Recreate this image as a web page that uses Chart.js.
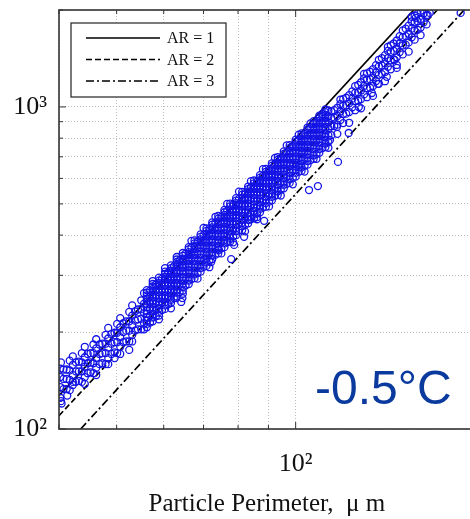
<!DOCTYPE html>
<html>
<head>
<meta charset="utf-8">
<script src="https://cdn.jsdelivr.net/npm/chart.js@4/dist/chart.umd.min.js"></script>
<style>
  html, body { margin: 0; padding: 0; background: #fff; overflow: hidden; }
  #wrap { position: relative; width: 480px; height: 519px; }
  #temp {
    position: absolute; left: 315px; top: 364px;
    font: 48px "Liberation Sans", Arial, sans-serif; line-height: 48px;
    color: #0b3a9e; white-space: nowrap;
  }
</style>
</head>
<body>
<div id="wrap">
  <canvas id="chart" width="480" height="519"></canvas>
  <div id="temp">-0.5°C</div>
</div>
<script>
'use strict';

// ── Data (perimeter in µm, area in µm²) ─────────────────────────────────────
const perimeterCols = [
  40.2, 40.7, 41.7, 42.7, 43.7, 44.7, 45.7, 46.8, 47.9, 49.0,
  50.1, 51.3, 52.5, 53.7, 55.0, 56.2, 57.5, 58.9, 60.3, 61.7,
  63.1, 64.6, 66.1, 67.6, 69.2, 70.8, 72.4, 74.1, 75.9, 77.6,
  79.4, 81.3, 83.2, 85.1, 87.1, 89.1, 91.2, 93.3, 95.5, 97.7,
  100, 102.3, 104.7, 107.2, 109.6, 112.2, 114.8, 117.5, 120.2, 123.0,
  125.9, 128.8, 131.8, 134.9, 138.0, 141.3, 144.5, 147.9, 151.4, 154.9,
  158.5, 162.2, 166.0,
];

// areas measured for each perimeter column above
const areaCols = [
  [125, 135, 145, 154],
  [133, 143, 153],
  [132, 142, 152, 163],
  [140, 151, 161],
  [140, 151, 161, 172],
  [149, 160, 171],
  [149, 160, 172, 183],
  [159, 171, 183],
  [159, 172, 184, 196],
  [171, 184, 197],
  [172, 186, 199, 212],
  [186, 200, 213],
  [187, 202, 216, 231],
  [202, 217, 232],
  [204, 220, 236, 251],
  [212, 222, 233, 244, 254, 265],
  [216, 227, 239, 250, 261, 272, 282],
  [231, 243, 254, 266, 278, 289],
  [236, 248, 260, 272, 285, 297, 308],
  [252, 265, 278, 290, 303, 316],
  [258, 271, 284, 297, 311, 324, 336],
  [276, 289, 303, 317, 331, 345],
  [282, 296, 311, 325, 340, 354, 367],
  [302, 317, 332, 347, 362, 377],
  [308, 324, 340, 356, 372, 388, 402],
  [329, 346, 363, 379, 396, 412],
  [337, 354, 371, 388, 406, 423, 438],
  [360, 378, 396, 414, 432, 450],
  [367, 386, 405, 424, 443, 462, 479],
  [392, 412, 432, 451, 471, 491],
  [400, 421, 441, 462, 482, 503, 521],
  [426, 448, 469, 491, 512, 534],
  [435, 457, 479, 502, 524, 546, 566],
  [463, 486, 509, 533, 556, 579],
  [471, 495, 519, 544, 568, 592, 614],
  [503, 528, 553, 579, 604, 629],
  [513, 539, 566, 592, 618, 645, 668],
  [547, 575, 602, 630, 657, 685],
  [559, 587, 616, 645, 673, 702, 728],
  [596, 626, 656, 686, 716, 746],
  [608, 639, 671, 702, 733, 765, 792],
  [649, 682, 715, 747, 780, 812],
  [662, 696, 730, 764, 798, 832, 863],
  [707, 742, 778, 813, 849, 885],
  [721, 758, 795, 832, 869, 907, 939],
  [770, 808, 847, 886, 925, 963],
  [817, 871, 924, 969],
  [881, 938, 994],
  [891, 950, 1009, 1058],
  [964, 1026, 1088],
  [977, 1042, 1106, 1160],
  [1058, 1125, 1193],
  [1072, 1143, 1213, 1272],
  [1162, 1236, 1310],
  [1180, 1258, 1336, 1401],
  [1284, 1366, 1448],
  [1309, 1396, 1482, 1554],
  [1426, 1517, 1608],
  [1456, 1552, 1648, 1728],
  [1586, 1687, 1788],
  [1618, 1725, 1831, 1920],
  [1764, 1877, 1990],
  [1804, 1923],
];

// in-between perimeter columns
const perimeterColsB = [
  41.2, 42.2, 43.2, 44.2, 45.2, 46.2, 47.3, 48.4, 49.6, 50.7,
  51.9, 53.1, 54.3, 55.6, 56.9, 58.2, 59.6, 61.0, 62.4, 63.8,
  65.3, 66.8, 68.4, 70.0, 71.6, 73.3, 75.0, 76.7, 78.5, 80.3,
  82.2, 84.1, 86.1, 88.1, 90.2, 92.3, 94.4, 96.6, 98.9, 101.2,
  103.5, 105.9, 108.4, 110.9, 113.5, 116.1, 118.9, 121.6, 124.5, 127.4,
  130.3, 133.4, 136.5, 139.6, 142.9, 146.2, 149.6, 153.1, 156.7, 160.3,
  164.1,
];

const areaColsB = [
  [133, 143, 153],
  [137, 147, 158],
  [141, 151, 162],
  [145, 156, 167],
  [150, 161, 172],
  [155, 166, 178],
  [160, 172, 184],
  [166, 179, 191],
  [173, 186, 199],
  [180, 193, 207],
  [187, 202, 216],
  [196, 210, 225],
  [204, 219, 235],
  [213, 229, 245],
  [214, 225, 236, 247, 258, 269],
  [224, 235, 246, 258, 269, 281],
  [234, 246, 257, 269, 281, 293],
  [244, 257, 269, 281, 294, 306],
  [255, 268, 281, 294, 307, 320],
  [266, 280, 294, 307, 321, 334],
  [279, 293, 307, 321, 335, 350],
  [292, 306, 321, 336, 351, 366],
  [305, 320, 336, 351, 367, 382],
  [319, 335, 351, 367, 384, 400],
  [333, 350, 367, 384, 401, 418],
  [348, 366, 383, 401, 419, 436],
  [364, 382, 401, 419, 437, 456],
  [380, 399, 418, 437, 457, 476],
  [396, 416, 436, 457, 477, 497],
  [413, 434, 455, 476, 497, 518],
  [431, 452, 474, 496, 518, 540],
  [449, 471, 494, 517, 540, 563],
  [467, 491, 514, 538, 562, 586],
  [487, 512, 536, 561, 586, 611],
  [508, 534, 560, 585, 611, 637],
  [530, 557, 584, 611, 638, 665],
  [553, 581, 609, 637, 666, 694],
  [577, 607, 636, 665, 695, 724],
  [602, 633, 664, 694, 725, 755],
  [629, 661, 692, 724, 756, 788],
  [656, 689, 723, 756, 789, 823],
  [684, 719, 754, 789, 824, 858],
  [714, 750, 787, 823, 859, 896],
  [745, 783, 821, 859, 897, 935],
  [778, 817, 857, 896, 936, 975],
  [872, 927, 977],
  [911, 968, 1021],
  [953, 1013, 1068],
  [998, 1061, 1118],
  [1045, 1111, 1171],
  [1094, 1163, 1226],
  [1147, 1219, 1286],
  [1203, 1279, 1349],
  [1265, 1345, 1418],
  [1332, 1417, 1494],
  [1404, 1493, 1574],
  [1481, 1574, 1660],
  [1561, 1660, 1750],
  [1646, 1750, 1845],
  [1736, 1846, 1946],
  [1833, 1949],
];

// extra particles filling the densest stretch of the cloud
const perimeterColsC = [
  56.2, 57.5, 58.9, 60.3, 61.7, 63.1, 64.6, 66.1, 67.6, 69.2,
  70.8, 72.4, 74.1, 75.9, 77.6, 79.4, 81.3, 83.2, 85.1, 87.1,
  89.1, 91.2, 93.3, 95.5, 97.7, 100, 102.3, 104.7, 107.2, 109.6,
  112.2,
];

const areaColsC = [
  [207, 217, 228, 239, 249, 260, 270],
  [222, 233, 245, 256, 267, 277],
  [225, 237, 249, 260, 272, 284, 295],
  [242, 254, 266, 279, 291, 303],
  [246, 259, 272, 284, 297, 310, 322],
  [265, 278, 291, 304, 318, 330],
  [269, 283, 296, 310, 324, 338, 352],
  [289, 304, 318, 333, 347, 361],
  [294, 310, 325, 340, 355, 370, 385],
  [316, 332, 348, 364, 380, 395],
  [321, 338, 355, 371, 388, 404, 420],
  [346, 363, 380, 397, 415, 431],
  [351, 369, 387, 405, 423, 441, 459],
  [377, 396, 415, 434, 453, 471],
  [382, 402, 422, 442, 461, 481, 501],
  [411, 431, 452, 472, 493, 512],
  [415, 437, 459, 480, 502, 523, 545],
  [446, 468, 491, 513, 535, 556],
  [451, 475, 498, 521, 545, 568, 591],
  [483, 507, 532, 556, 580, 603],
  [490, 516, 541, 566, 592, 617, 642],
  [526, 553, 579, 605, 632, 657],
  [533, 561, 589, 616, 644, 671, 699],
  [573, 602, 631, 659, 688, 715],
  [581, 611, 641, 671, 701, 731, 761],
  [624, 655, 687, 718, 749, 779],
  [633, 666, 699, 731, 764, 796, 828],
  [679, 713, 747, 781, 815, 848],
  [690, 725, 760, 796, 831, 867, 903],
  [740, 777, 814, 851, 888, 923],
  [751, 789, 828, 867, 906, 944, 982],
];

// loose particles along the edges of the band
const fringePerimeter = [
  58.9, 61.7, 64.6, 68.4, 71.6, 75.0, 78.5, 82.2, 86.1, 90.2,
  94.4, 98.9, 103.5, 108.4, 113.5,
  57.5, 60.3, 63.1, 66.8, 70.0, 73.3, 76.7, 80.3, 84.1, 88.1,
  92.3, 96.6, 101.2, 105.9, 110.9,
  40.3, 40.3, 42.2, 42.2, 44.2, 44.2, 46.2, 46.2, 48.4, 48.4,
  50.7, 50.7, 53.1, 53.1, 55.6, 55.6,
  117.5, 123.0, 128.8, 134.9, 141.3, 147.9, 154.9, 162.2,
  118.9, 130.3, 142.9, 156.7,
];
const fringeArea = [
  219, 237, 263, 293, 318, 351, 380, 411, 448, 491,
  531, 575, 630, 690, 747,
  288, 316, 342, 384, 421, 456, 500, 546, 588, 641,
  695, 760, 820, 889, 951,
  161, 122, 168, 140, 180, 138, 190, 147, 206, 159,
  221, 171, 242, 187, 264, 204,
  825, 893, 990, 1082, 1202, 1350, 1485, 1671,
  1054, 1267, 1536, 1906,
];

// scattered particles away from the main band
const outlierPerimeter = [
  189.4, 168.0, 162.3, 159.2, 166.7, 147.9, 142.3, 137.4, 134.3, 127.7,
  122.8, 117.3, 114.2, 117.8, 109.0, 105.3, 101.3, 146.7, 88.5, 86.1,
  83.5, 81.9, 78.8, 77.9, 74.3, 72.1, 64.5, 64.2, 63.0, 52.5,
  49.6, 40.4, 41.3,
];
const outlierArea = [
  1959, 1959, 1863, 1890, 1931, 1322, 1240, 1179, 1105, 1000,
  830, 867, 790, 675, 568, 552, 651, 1400, 443, 455,
  446, 395, 373, 337, 360, 330, 255, 248, 255, 176,
  166, 120, 127,
];

// reference aspect-ratio lines: end points [perimeter, area]
const arLabels = ['AR = 1', 'AR = 2', 'AR = 3'];
const arPerimeter = [[40, 158], [40, 173], [43.5, 192]];
const arArea = [[127, 2000], [110, 2000], [100, 2000]];
const arDash = [[], [6, 3], [8, 3, 2, 3]];

const xTickValues = [40, 50, 60, 70, 80, 90, 100, 200];
const yTickValues = [100, 200, 300, 400, 500, 600, 700, 800, 900, 1000, 2000];
const tickLabels = { 100: '10²', 1000: '10³' };

const SERIF = '"Liberation Serif", "Times New Roman", serif';
const MARKER = '#1414e6';

// ── Build datasets ─────────────────────────────────────────────────────────────
const columnPoints = (ps, rows) => ps.flatMap((p, i) => rows[i].map(a => ({ x: p, y: a })));
const pairPoints = (ps, as) => ps.map((p, i) => ({ x: p, y: as[i] }));
const particles = columnPoints(perimeterCols, areaCols)
  .concat(columnPoints(perimeterColsB, areaColsB))
  .concat(columnPoints(perimeterColsC, areaColsC))
  .concat(pairPoints(fringePerimeter, fringeArea))
  .concat(pairPoints(outlierPerimeter, outlierArea));

const datasets = [{
  label: 'particles',
  data: particles,
  order: 0,
  pointStyle: 'circle',
  pointRadius: 3.5,
  pointBorderWidth: 1.3,
  borderColor: MARKER,
  backgroundColor: 'rgba(0,0,0,0)',
}].concat(arLabels.map((label, i) => ({
  label,
  data: pairPoints(arPerimeter[i], arArea[i]),
  order: 1,
  showLine: true,
  pointRadius: 0,
  borderColor: '#000',
  borderWidth: 1.7,
  borderDash: arDash[i],
  fill: false,
})));

// ── Plugins: box frame with inward ticks, boxed legend ────────────────────────
const frameTicks = {
  id: 'frameTicks',
  afterDatasetsDraw(chart) {
    const { ctx, chartArea: a, scales: { x, y } } = chart;
    ctx.save();
    ctx.strokeStyle = '#333';
    ctx.lineWidth = 1;
    ctx.beginPath();
    x.ticks.forEach(t => {
      const px = x.getPixelForValue(t.value);
      const len = tickLabels[t.value] ? 7 : 4;
      ctx.moveTo(px, a.bottom); ctx.lineTo(px, a.bottom - len);
      ctx.moveTo(px, a.top); ctx.lineTo(px, a.top + len);
    });
    y.ticks.forEach(t => {
      const py = y.getPixelForValue(t.value);
      const len = tickLabels[t.value] ? 7 : 4;
      ctx.moveTo(a.left, py); ctx.lineTo(a.left + len, py);
    });
    ctx.stroke();
    ctx.lineWidth = 1.6;
    ctx.strokeRect(a.left, a.top, a.right - a.left, a.bottom - a.top);
    ctx.restore();
  },
};

const boxLegend = {
  id: 'boxLegend',
  afterDraw(chart) {
    const { ctx, chartArea: a } = chart;
    const bx = a.left + 12, by = a.top + 13, bw = 155, bh = 74;
    ctx.save();
    ctx.fillStyle = '#fff';
    ctx.fillRect(bx, by, bw, bh);
    ctx.strokeStyle = '#222';
    ctx.lineWidth = 1.2;
    ctx.strokeRect(bx, by, bw, bh);
    ctx.font = '16px ' + SERIF;
    ctx.textBaseline = 'middle';
    ctx.fillStyle = '#111';
    chart.data.datasets.filter(ds => ds.showLine).forEach((ds, i) => {
      const ry = by + 15 + i * 21.5;
      ctx.beginPath();
      ctx.setLineDash(ds.borderDash);
      ctx.strokeStyle = '#000';
      ctx.lineWidth = 1.6;
      ctx.moveTo(bx + 15, ry);
      ctx.lineTo(bx + 89, ry);
      ctx.stroke();
      ctx.setLineDash([]);
      ctx.fillText(ds.label, bx + 96, ry + 1);
    });
    ctx.restore();
  },
};

// keep the plot box fixed: no extra padding from tick label overhang
function zeroPadding(s) {
  s.paddingLeft = 0; s.paddingRight = 0; s.paddingTop = 0; s.paddingBottom = 0;
}

const gridOpts = { color: '#bdbdbd', lineWidth: 1, drawTicks: false };
const borderOpts = { display: false, dash: [1, 2] };
const tickFont = { family: SERIF, size: 26 };

new Chart(document.getElementById('chart'), {
  type: 'scatter',
  data: { datasets },
  options: {
    responsive: false,
    animation: false,
    events: [],
    layout: { padding: { top: 10, right: 4, left: 0, bottom: 0 } },
    plugins: { legend: { display: false }, tooltip: { enabled: false } },
    scales: {
      x: {
        type: 'logarithmic',
        min: 40,
        max: 200,
        afterBuildTicks: s => { s.ticks = xTickValues.map(v => ({ value: v })); },
        afterFit: s => { s.height = 90; zeroPadding(s); },
        grid: gridOpts,
        border: borderOpts,
        ticks: {
          autoSkip: false, maxRotation: 0, padding: 20, color: '#111', font: tickFont,
          callback: v => tickLabels[v] || '',
        },
        title: {
          display: true,
          text: 'Particle Perimeter,  μ m',
          color: '#111',
          font: { family: SERIF, size: 25 },
          padding: { top: 0, bottom: 0 },
        },
      },
      y: {
        type: 'logarithmic',
        min: 100,
        max: 2000,
        afterBuildTicks: s => { s.ticks = yTickValues.map(v => ({ value: v })); },
        afterFit: s => { s.width = 59; zeroPadding(s); },
        grid: gridOpts,
        border: borderOpts,
        ticks: {
          autoSkip: false, padding: 12, color: '#111', font: tickFont,
          callback: v => tickLabels[v] || '',
        },
      },
    },
  },
  plugins: [frameTicks, boxLegend],
});
</script>
</body>
</html>
